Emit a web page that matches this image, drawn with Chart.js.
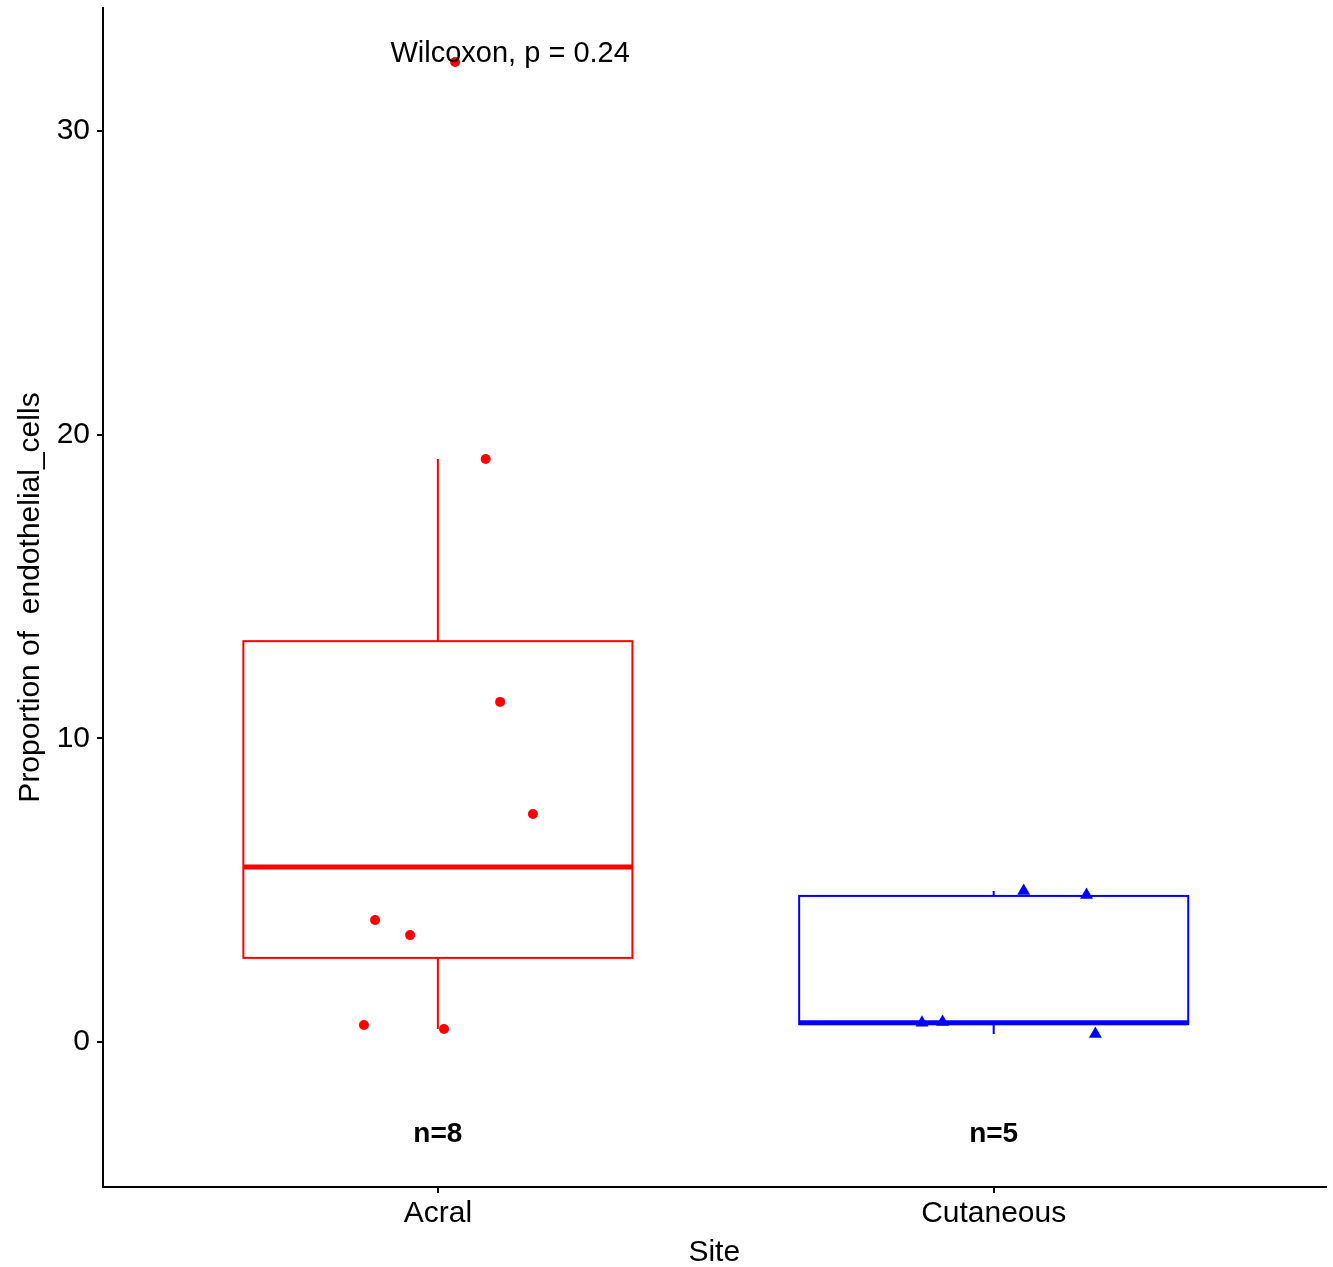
<!DOCTYPE html>
<html>
<head>
<meta charset="utf-8">
<style>
  html, body { margin: 0; padding: 0; background: #fff; overflow: hidden; }
  canvas { display: block; }
</style>
<script src="https://cdn.jsdelivr.net/npm/chart.js@4.4.1/dist/chart.umd.min.js"></script>
</head>
<body>
<canvas id="siteChart" width="1333" height="1267"></canvas>
<script>
// data
const sites = ['Acral', 'Cutaneous'];
const siteColors = ['#FF0000', '#0000FF'];
const sitePointStyles = ['circle', 'triangle'];

// box stats per site
const boxLow = [0.43, 0.26];
const boxQ1 = [2.77, 0.59];
const boxMedian = [5.76, 0.63];
const boxQ3 = [13.2, 4.81];
const boxHigh = [19.2, 4.97];

// jittered points (x is position along the site axis, 1 = Acral, 2 = Cutaneous)
const acralX = [1.031, 1.086, 1.112, 1.171, 0.887, 0.950, 0.867, 1.011];
const acralY = [32.27, 19.2, 11.2, 7.51, 4.02, 3.52, 0.56, 0.43];
const cutaneousX = [2.054, 2.167, 1.871, 1.908, 2.183];
const cutaneousY = [4.97, 4.84, 0.63, 0.66, 0.26];

const yTicks = [0, 10, 20, 30];
const countLabels = ['n=8', 'n=5'];
const countY = -3.03;
const testLabel = 'Wilcoxon, p = 0.24';
const testLabelX = 1.13;
const testLabelY = 32.55;

Chart.defaults.font.family = '"Liberation Sans", Arial, sans-serif';
Chart.defaults.color = '#000';

const toPoints = (xs, ys) => xs.map((x, i) => ({ x: x, y: ys[i] }));

const noPadding = (scale) => {
    scale.paddingLeft = 0;
    scale.paddingRight = 0;
    scale.paddingTop = 0;
    scale.paddingBottom = 0;
};

// setup
const data = {
    datasets: [{
        label: sites[0],
        data: toPoints(acralX, acralY),
        backgroundColor: siteColors[0],
        borderWidth: 0,
        pointStyle: sitePointStyles[0],
        pointRadius: 5
    }, {
        label: sites[1],
        data: toPoints(cutaneousX, cutaneousY),
        backgroundColor: siteColors[1],
        borderWidth: 0,
        pointStyle: sitePointStyles[1],
        pointRadius: 7.5
    }]
};

// boxplots drawn under the points
const boxPlot = {
    id: 'boxPlot',
    beforeDatasetsDraw(chart) {
        const { ctx, scales: { x, y } } = chart;
        ctx.save();
        sites.forEach((s, i) => {
            const cx = x.getPixelForValue(i + 1);
            const left = x.getPixelForValue(i + 1 - 0.35);
            const right = x.getPixelForValue(i + 1 + 0.35);
            const q1 = y.getPixelForValue(boxQ1[i]);
            const q3 = y.getPixelForValue(boxQ3[i]);
            ctx.strokeStyle = siteColors[i];
            ctx.lineWidth = 2;
            // whiskers
            ctx.beginPath();
            ctx.moveTo(cx, y.getPixelForValue(boxHigh[i]));
            ctx.lineTo(cx, q3);
            ctx.moveTo(cx, q1);
            ctx.lineTo(cx, y.getPixelForValue(boxLow[i]));
            ctx.stroke();
            // box
            ctx.strokeRect(left, q3, right - left, q1 - q3);
            // median
            ctx.lineWidth = 5;
            ctx.beginPath();
            const m = y.getPixelForValue(boxMedian[i]);
            ctx.moveTo(left, m);
            ctx.lineTo(right, m);
            ctx.stroke();
        });
        ctx.restore();
    }
};

const textLabels = {
    id: 'textLabels',
    afterDatasetsDraw(chart) {
        const { ctx, scales: { x, y } } = chart;
        ctx.save();
        ctx.fillStyle = '#000';
        ctx.textAlign = 'center';
        ctx.textBaseline = 'middle';
        ctx.font = 'bold 28px "Liberation Sans", Arial, sans-serif';
        countLabels.forEach((t, i) => {
            ctx.fillText(t, x.getPixelForValue(i + 1), y.getPixelForValue(countY));
        });
        ctx.font = '29px "Liberation Sans", Arial, sans-serif';
        ctx.fillText(testLabel, x.getPixelForValue(testLabelX), y.getPixelForValue(testLabelY));
        ctx.restore();
    }
};

// config
const config = {
    type: 'scatter',
    data: data,
    options: {
        responsive: false,
        animation: false,
        layout: { padding: { top: 8, right: 0, bottom: 0, left: 0 } },
        plugins: {
            legend: { display: false },
            tooltip: { enabled: false }
        },
        scales: {
            x: {
                type: 'linear',
                min: 0.3975,
                max: 2.597,
                afterBuildTicks: (scale) => { scale.ticks = sites.map((s, i) => ({ value: i + 1 })); },
                afterFit: (scale) => { scale.height = 80; noPadding(scale); },
                ticks: {
                    font: { size: 30 },
                    color: '#000',
                    padding: 3,
                    callback: (v) => sites[v - 1]
                },
                grid: { drawOnChartArea: false, drawTicks: true, tickLength: 6, color: '#000', lineWidth: 2 },
                border: { display: true, color: '#000', width: 2 },
                title: { display: true, text: 'Site', font: { size: 30 }, color: '#000', padding: { top: 0, bottom: -4 } }
            },
            y: {
                min: -4.775,
                max: 34.05,
                afterBuildTicks: (scale) => { scale.ticks = yTicks.map(v => ({ value: v })); },
                afterFit: (scale) => { scale.width = 103; noPadding(scale); },
                ticks: {
                    font: { size: 30 },
                    color: '#000',
                    padding: 7
                },
                grid: { drawOnChartArea: false, drawTicks: true, tickLength: 6, color: '#000', lineWidth: 2 },
                border: { display: true, color: '#000', width: 2 },
                title: { display: true, text: 'Proportion of  endothelial_cells', font: { size: 30 }, color: '#000', padding: { top: 13, bottom: 0 } }
            }
        }
    },
    plugins: [boxPlot, textLabels]
};

// render init block
const myChart = new Chart(
    document.getElementById('siteChart'),
    config
);
</script>
</body>
</html>
